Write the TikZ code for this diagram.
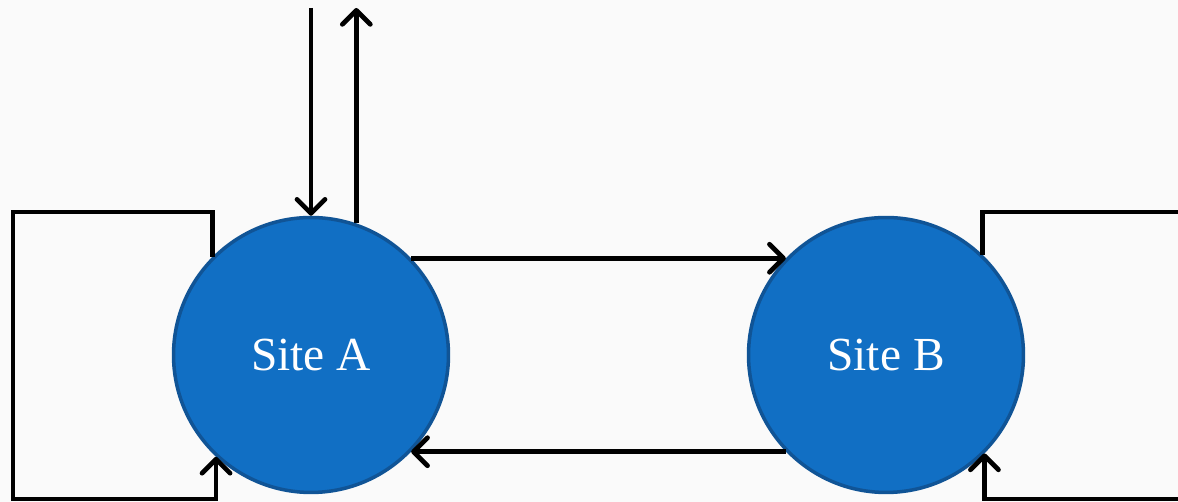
\documentclass[tikz,border=0pt]{standalone}
\usepackage{fontspec}
\setmainfont{Liberation Serif}
\usetikzlibrary{arrows.meta,positioning}
\definecolor{sitefill}{RGB}{17,111,196}
\definecolor{siteedge}{RGB}{16,84,150}
\definecolor{paper}{RGB}{250,250,250}

\begin{document}
\begin{tikzpicture}[
  x=0.02cm, y=0.02cm,
  site/.style={circle, fill=sitefill, draw=siteedge, line width=2pt,
               minimum size=5.5cm, text=white, font=\fontsize{27}{32}\selectfont},
  arr/.style={-{Straight Barb[length=2.8mm, width=5.6mm, round]}, line width=2.7pt}
]
\fill[paper] (0,0) rectangle (1178,502);
\clip (0,0) rectangle (1178,502);

\node[site] at (311,147) (siteA) {Site A};
\node[site] at (886,147) (siteB) {Site B};

% top feeds
\coordinate (feedTop) at (311,494);
\draw[arr] (feedTop) -- (siteA.north);
\draw[arr] (siteA.71) -- (siteA.71 |- feedTop);

% between the sites
\draw[arr] (siteA.44) -- (siteB.136);
\draw[arr] (siteB.224) -- (siteA.-44);

% self loops
\coordinate (loopAtop) at (13,290);
\coordinate (loopAbot) at (13,3);
\draw[arr] (siteA.135) |- (loopAtop) -- (loopAbot) -| (siteA.227);

\coordinate (loopBtop) at (1195,290);
\coordinate (loopBbot) at (1195,3);
\draw[arr] (siteB.46) |- (loopBtop) -- (loopBbot) -| (siteB.-45);

\end{tikzpicture}
\end{document}
